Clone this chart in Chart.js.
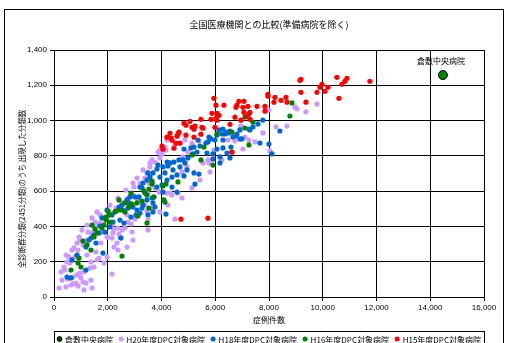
<!DOCTYPE html>
<html><head><meta charset="utf-8">
<script src="https://cdn.jsdelivr.net/npm/chart.js@4/dist/chart.umd.min.js"></script>
<style>html,body{margin:0;padding:0;background:#fff;overflow:hidden}canvas{display:block}</style>
</head><body>
<canvas id="c" width="505" height="343"></canvas>
<script>
// ---- data ----
const chartTitle = "全国医療機関との比較(準備病院を除く)";
const xTitle = "症例件数";
const yTitle = "全診断群分類(2451分類)のうち 出現した分類数";
const seriesNames = ["倉敷中央病院", "H20年度DPC対象病院", "H18年度DPC対象病院", "H16年度DPC対象病院", "H15年度DPC対象病院"];
const xTicks = [0, 2000, 4000, 6000, 8000, 10000, 12000, 14000, 16000];
const yTicks = [0, 200, 400, 600, 800, 1000, 1200, 1400];

const kurashiki = [[14470, 1258]];

const h15 = [[9151,1228],[10528,1245],[10900,1240],[10714,1206],[10825,1223],[9970,1206],[9895,1189],[10193,1189],[10081,1166],[9784,1160],[9188,1160],[9188,1234],[11755,1223],[10602,1126],[9374,1104],[7961,1149],[7961,1138],[8221,1132],[8444,1115],[8630,1132],[8668,1104],[8184,1104],[5952,1126],[6026,1087],[6324,1087],[6882,1109],[6808,1087],[6770,1075],[7068,1109],[7031,1075],[7217,1081],[7552,1081],[7849,1081],[7849,1053],[7068,1047],[7291,1047],[7180,1024],[5878,1041],[6064,1041],[6138,1030],[6026,1013],[5840,1007],[6064,1002],[5468,1007],[5059,996],[4836,985],[4910,974],[5134,962],[5245,968],[5208,951],[5506,962],[5543,957],[6547,979],[6733,1019],[6956,1002],[7291,1007],[5989,962],[4650,934],[4613,923],[4315,928],[4204,906],[4352,900],[4390,889],[4576,911],[4687,872],[4538,872],[4910,917],[5208,906],[5468,923],[4018,855],[4055,838],[4464,843],[6622,821],[4724,441],[5729,447]];

const h16 = [[8854,1100],[8779,1026],[7254,1037],[7403,992],[7105,1020],[7105,958],[7254,862],[6622,935],[6064,924],[5580,850],[5134,805],[5468,777],[5915,748],[4613,652],[4166,640],[4055,629],[3646,640],[3534,612],[3720,567],[3460,578],[4092,550],[3534,504],[3274,544],[3348,601],[3646,657],[2864,589],[2418,550],[2269,482],[2009,487],[2641,482],[2455,493],[4129,538],[3125,459],[3460,419],[1934,436],[1860,408],[2902,527],[2046,465],[1934,453],[2306,487],[1414,408],[1600,363],[1488,340],[1228,295],[1376,266],[930,221],[893,193],[1004,170],[632,153],[2530,232],[2641,533],[3088,533],[2790,510],[1079,317],[1525,385],[1786,391],[2083,425]];

const h18 = [[7775,1003],[7589,981],[7403,964],[7254,952],[6919,896],[6770,913],[6659,907],[6510,930],[6436,935],[6361,924],[6250,924],[6138,947],[6064,918],[5989,890],[5840,896],[5729,879],[5654,873],[5431,856],[5208,850],[5096,845],[4836,839],[5320,822],[5171,811],[4985,788],[4799,777],[4650,777],[4464,765],[4315,760],[4241,743],[4055,737],[3869,748],[3832,726],[3683,703],[3571,680],[3460,663],[3311,646],[3274,618],[3385,589],[3646,561],[3683,533],[4018,635],[4390,680],[4576,692],[4836,686],[5208,703],[5394,697],[5245,640],[6175,760],[5915,782],[6064,839],[6287,845],[6436,816],[6547,788],[6175,794],[5915,811],[7663,873],[7998,867],[8110,811],[8407,941],[7291,947],[6919,947],[6547,941],[6287,952],[4687,737],[4948,720],[4427,720],[4129,703],[3943,680],[4204,663],[3832,623],[3460,550],[3311,521],[4204,765],[4873,760],[3497,703],[3199,623],[3162,567],[3013,567],[2827,567],[2716,550],[2530,521],[2567,493],[2753,504],[2939,510],[3088,493],[3274,504],[3757,510],[4055,595],[4390,623],[4576,595],[2864,453],[2455,436],[2195,425],[2083,397],[1897,368],[2492,334],[4166,470],[3050,465],[3199,476],[3497,465],[3683,482],[1972,493],[2158,465],[1786,448],[1711,402],[1674,363],[1488,351],[1376,334],[1302,323],[1190,283],[856,238],[670,210],[484,113],[632,108],[1190,153],[1823,249],[2604,419],[2418,510],[2790,533],[1562,306],[6808,924],[6287,890],[6584,850],[5692,816],[5357,890],[5766,907],[6994,896]];

const h20 = [[7886,1071],[7998,1060],[8965,1077],[9040,1066],[9374,1049],[9784,1094],[8668,969],[8258,964],[7775,930],[8035,828],[7254,890],[7031,839],[6956,969],[7105,907],[6733,884],[6473,890],[6436,930],[5952,833],[5729,777],[5766,760],[5543,760],[5394,884],[5134,873],[4985,822],[4799,794],[4204,890],[4129,850],[3943,833],[3943,788],[3757,765],[3571,737],[3460,703],[3385,674],[3534,646],[3757,618],[3943,595],[4204,589],[4390,578],[4613,589],[3497,589],[3274,533],[3385,521],[3646,504],[4166,833],[4018,811],[3571,760],[2939,646],[3683,646],[4315,589],[4762,709],[4948,737],[3906,595],[2939,578],[3460,487],[3497,436],[4501,442],[2902,368],[2381,391],[2195,363],[2009,340],[2455,340],[2158,408],[2716,465],[1600,482],[1414,448],[1228,408],[1042,380],[930,340],[856,306],[670,266],[558,227],[484,198],[372,170],[260,142],[298,96],[186,51],[446,57],[632,68],[818,79],[856,125],[1116,142],[1004,108],[1190,79],[1376,96],[1116,40],[1414,51],[1488,170],[1674,221],[1562,255],[1228,238],[1376,198],[1749,306],[1972,340],[2232,380],[2158,334],[2344,306],[1860,193],[1972,227],[1600,408],[2492,504],[1972,448],[1786,368],[707,74],[893,62],[1079,85],[2158,130],[2232,283],[2418,357],[2641,391],[2864,414],[3013,442],[1600,210],[1339,164],[967,136],[707,113],[521,102],[409,153],[595,193],[781,227],[893,266],[1079,295],[1228,323],[1414,363],[1525,391],[1711,419],[1897,448],[2083,476],[2306,504],[2530,533],[2753,561],[2976,623],[3199,646],[3497,380],[2939,323],[2716,283],
  [2083,521],[2381,561],[2678,606],[3088,674],[3311,720],[3646,777],[3869,822],[4501,862],[4873,890],[3943,482],[4241,521],[4762,561],[5134,618],[5431,663],[5803,709],[6250,777],[6622,822],[7477,879],[1711,465],[1525,425],[1265,368],[967,323],[744,278],[446,238],[2530,380],[2753,425],[3125,550],[2381,266]];

const toPts = a => a.map(p => ({x: p[0], y: p[1]}));
const fmt = v => v.toLocaleString('en-US');

const CJK = '"Noto Sans CJK JP", "Noto Sans", sans-serif';
const LAT = '"Liberation Sans", Arial, sans-serif';

const colors = ['#008000', '#CC99FF', '#0066CC', '#008000', '#FF0000'];

const framePlugin = {
  id: 'frame',
  afterDraw(chart) {
    const c = chart.ctx, a = chart.chartArea;
    c.save();
    // outer frame
    c.strokeStyle = '#000'; c.lineWidth = 1;
    c.strokeRect(4.5, 9.5, 499, 360);
    // title
    c.fillStyle = '#000';
    c.font = '9px ' + CJK;
    c.textAlign = 'center'; c.textBaseline = 'middle';
    c.fillText(chartTitle, (a.left + a.right) / 2, 25);
    // y-axis title
    c.save();
    c.translate(22, 189);
    c.rotate(-Math.PI / 2);
    c.font = '7.5px ' + CJK;
    c.fillText(yTitle, 0, 0);
    c.restore();
    // kurashiki label
    const xs = chart.scales.x, ys = chart.scales.y;
    const kx = xs.getPixelForValue(kurashiki[0][0]), ky = ys.getPixelForValue(kurashiki[0][1]);
    c.font = '8px ' + CJK;
    c.fillText(seriesNames[0], kx - 2, ky - 14);
    // legend
    const top = a.bottom + 34;
    c.strokeRect(a.left + 0.5, top + 0.5, a.right - a.left, 30);
    c.font = '8px ' + CJK;
    c.textAlign = 'left';
    const widths = seriesNames.map(n => c.measureText(n).width + 8);
    const total = widths.reduce((s, w) => s + w, 0);
    const gap = (a.right - a.left - 6 - total) / (seriesNames.length - 1);
    let x = a.left + 3;
    const ty = top + 8;
    seriesNames.forEach((n, i) => {
      c.beginPath();
      c.arc(x + 2.5, ty, 2.5, 0, Math.PI * 2);
      c.fillStyle = i === 0 ? '#004000' : colors[i];
      c.fill();
      if (i === 0) { c.strokeStyle = '#000'; c.lineWidth = 0.8; c.stroke(); }
      c.fillStyle = '#000';
      c.fillText(n, x + 8, ty + 0.5);
      x += widths[i] + gap;
    });
    c.restore();
  }
};

new Chart(document.getElementById('c'), {
  type: 'scatter',
  data: {
    datasets: [
      {label: seriesNames[0], data: toPts(kurashiki), backgroundColor: '#008000', borderColor: '#000', borderWidth: 1, pointRadius: 4.5, order: 5},
      {label: seriesNames[1], data: toPts(h20), backgroundColor: colors[1], borderWidth: 0, pointRadius: 2.6, order: 4},
      {label: seriesNames[2], data: toPts(h18), backgroundColor: colors[2], borderWidth: 0, pointRadius: 2.6, order: 3},
      {label: seriesNames[3], data: toPts(h16), backgroundColor: colors[3], borderWidth: 0, pointRadius: 2.6, order: 2},
      {label: seriesNames[4], data: toPts(h15), backgroundColor: colors[4], borderWidth: 0, pointRadius: 2.6, order: 1}
    ]
  },
  options: {
    responsive: false,
    animation: false,
    devicePixelRatio: 1,
    layout: {padding: {left: 0, right: 21, top: 50, bottom: 14}},
    plugins: {legend: {display: false}, title: {display: false}, tooltip: {enabled: false}},
    scales: {
      x: {
        type: 'linear', min: xTicks[0], max: xTicks[xTicks.length - 1],
        afterBuildTicks: s => { s.ticks = xTicks.map(v => ({value: v})); },
        afterFit: s => { s.height = 32; },
        ticks: {callback: v => fmt(v), font: {family: LAT, size: 8}, color: '#000', padding: 2, maxRotation: 0},
        grid: {color: '#000', lineWidth: 1, tickLength: 4},
        border: {color: '#000', width: 1},
        title: {display: true, text: xTitle, font: {family: CJK, size: 8}, color: '#000', padding: {top: 0, bottom: 4}}
      },
      y: {
        type: 'linear', min: yTicks[0], max: yTicks[yTicks.length - 1],
        afterBuildTicks: s => { s.ticks = yTicks.map(v => ({value: v})); },
        afterFit: s => { s.width = 54; },
        ticks: {callback: v => fmt(v), font: {family: LAT, size: 8}, color: '#000', padding: 3},
        grid: {color: '#000', lineWidth: 1, tickLength: 4},
        border: {color: '#000', width: 1},
        title: {display: false}
      }
    }
  },
  plugins: [framePlugin]
});
</script>
</body></html>
